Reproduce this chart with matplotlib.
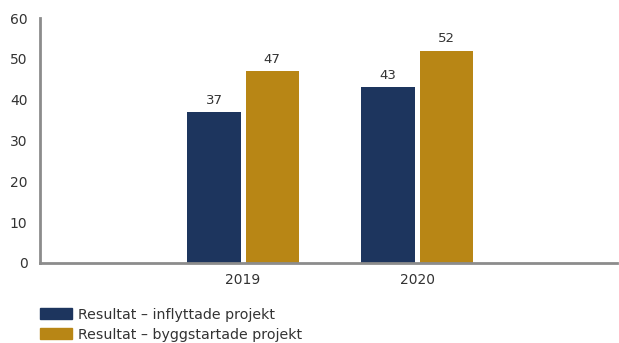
import matplotlib
matplotlib.use("Agg")
import matplotlib.pyplot as plt
from matplotlib.patches import Patch

categories = ["2019", "2020"]
series_names = ["Resultat – inflyttade projekt", "Resultat – byggstartade projekt"]
inflyttade = [37, 43]
byggstartade = [47, 52]
colors = ["#1d355e", "#b88615"]
yticks = [0, 10, 20, 30, 40, 50, 60]

plt.rcParams['font.family'] = ['DejaVu Sans']
txt = "#333333"

fig = plt.figure(figsize=(6.19, 3.43), dpi=100)
ax = fig.add_axes([40/619, 1-263/343, (617-40)/619, (263-18)/343])

x = list(range(len(categories)))
w = 0.305
off = 0.167
b1 = ax.bar([i - off for i in x], inflyttade, width=w, color=colors[0])
b2 = ax.bar([i + off for i in x], byggstartade, width=w, color=colors[1])
for bars, vals in ((b1, inflyttade), (b2, byggstartade)):
    for r, v in zip(bars, vals):
        ax.text(r.get_x() + r.get_width()/2, v + 1.3, str(v), ha="center", va="bottom",
                fontsize=9.5, color=txt)

ax.set_xlim(-1.167, 2.149)
ax.set_ylim(0, 60)
ax.set_yticks(yticks)
ax.set_xticks(x)
ax.set_xticklabels(categories)
ax.tick_params(axis="both", length=0, labelsize=10, colors=txt)
ax.tick_params(axis="y", pad=9)
ax.tick_params(axis="x", pad=7)
for s in ("top", "right"):
    ax.spines[s].set_visible(False)
for s in ("left", "bottom"):
    ax.spines[s].set_color("#8c8c8c")
    ax.spines[s].set_linewidth(2)

handles = [Patch(color=c) for c in colors]
fig.legend(handles, series_names, loc="upper left", bbox_to_anchor=(34/619, 1-302/343),
           frameon=False, fontsize=10.2, labelcolor=txt, handlelength=2.25, handleheight=0.85,
           handletextpad=0.45, labelspacing=0.42, borderaxespad=0)

fig.savefig("out.png", dpi=100)
